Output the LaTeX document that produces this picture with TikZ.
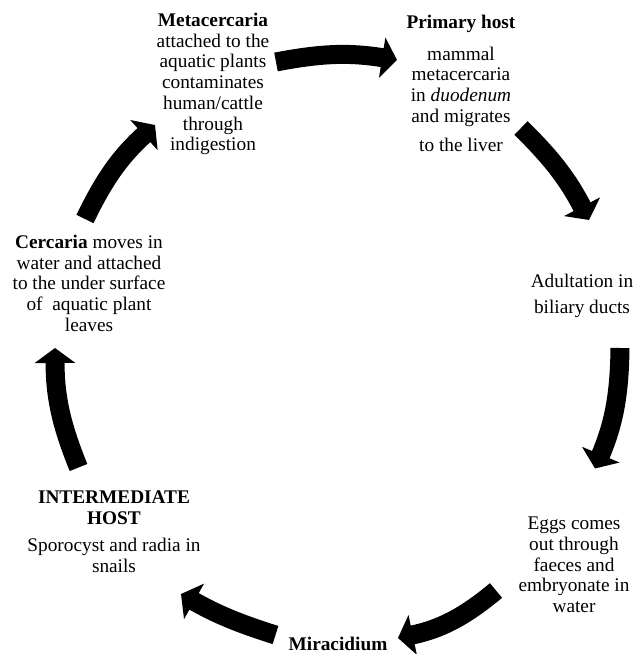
\documentclass[tikz,border=0pt]{standalone}
\usepackage{fontspec}
\setmainfont{Liberation Serif}
\usetikzlibrary{arrows.meta}
\tikzset{
  stage/.style={align=center, inner sep=0pt, anchor=north, font=\fontsize{19.3}{20.7}\selectfont},
  flow/.style={line width=19pt, -{Triangle[width=40pt,length=15pt]}},
}
\begin{document}
\begin{tikzpicture}[x=1pt,y=1pt]
    \useasboundingbox (0,0) rectangle (637,654);
    % stages of the life cycle
    \node[stage] (meta) at (213,641) {\textbf{Metacercaria}\\attached to the\\aquatic plants\\contaminates\\human/cattle\\through\\indigestion};
    \node[stage] (primary) at (461,639) {\textbf{Primary host}\\[11pt]mammal\\metacercaria\\in \textit{duodenum}\\and migrates\\[8pt]to the liver};
    \node[stage] (adult) at (582,380) {Adultation in\\[5pt]biliary ducts};
    \node[stage] (eggs) at (574,137) {Eggs comes\\out through\\faeces and\\embryonate in\\water};
    \node[stage, anchor=base] (mira) at (338,4) {\textbf{Miracidium}};
    \node[stage] (inter) at (114,163) {\textbf{INTERMEDIATE}\\\textbf{HOST}\\[6pt]Sporocyst and radia in\\snails};
    \node[stage] (cerc) at (89,419) {\textbf{Cercaria} moves in\\water and attached\\to the under surface\\of\ \ aquatic plant\\leaves};
    % arrow ends
    \coordinate (a1s) at (276,592);   \coordinate (a1e) at (397,594);
    \coordinate (a2s) at (521,526);   \coordinate (a2e) at (589,434);
    \coordinate (a3s) at (620,306);   \coordinate (a3e) at (595,185.5);
    \coordinate (a4s) at (496,63.5);  \coordinate (a4e) at (398,16);
    \coordinate (a5s) at (275.5,19);  \coordinate (a5e) at (181,60);
    \coordinate (a6s) at (78.5,186.5); \coordinate (a6e) at (55,306);
    \coordinate (a7s) at (85,435);    \coordinate (a7e) at (155,529);
    % arrows
    \draw[flow] (a1s) to[bend left=10] (a1e);
    \draw[flow] (a2s) to[bend left=9] (a2e);
    \draw[flow] (a3s) to[bend left=11] (a3e);
    \draw[flow] (a4s) to[bend left=14] (a4e);
    \draw[flow] (a5s) to[bend left=6] (a5e);
    \draw[flow] (a6s) to[bend left=11] (a6e);
    \draw[flow] (a7s) to[bend left=11] (a7e);
\end{tikzpicture}
\end{document}
